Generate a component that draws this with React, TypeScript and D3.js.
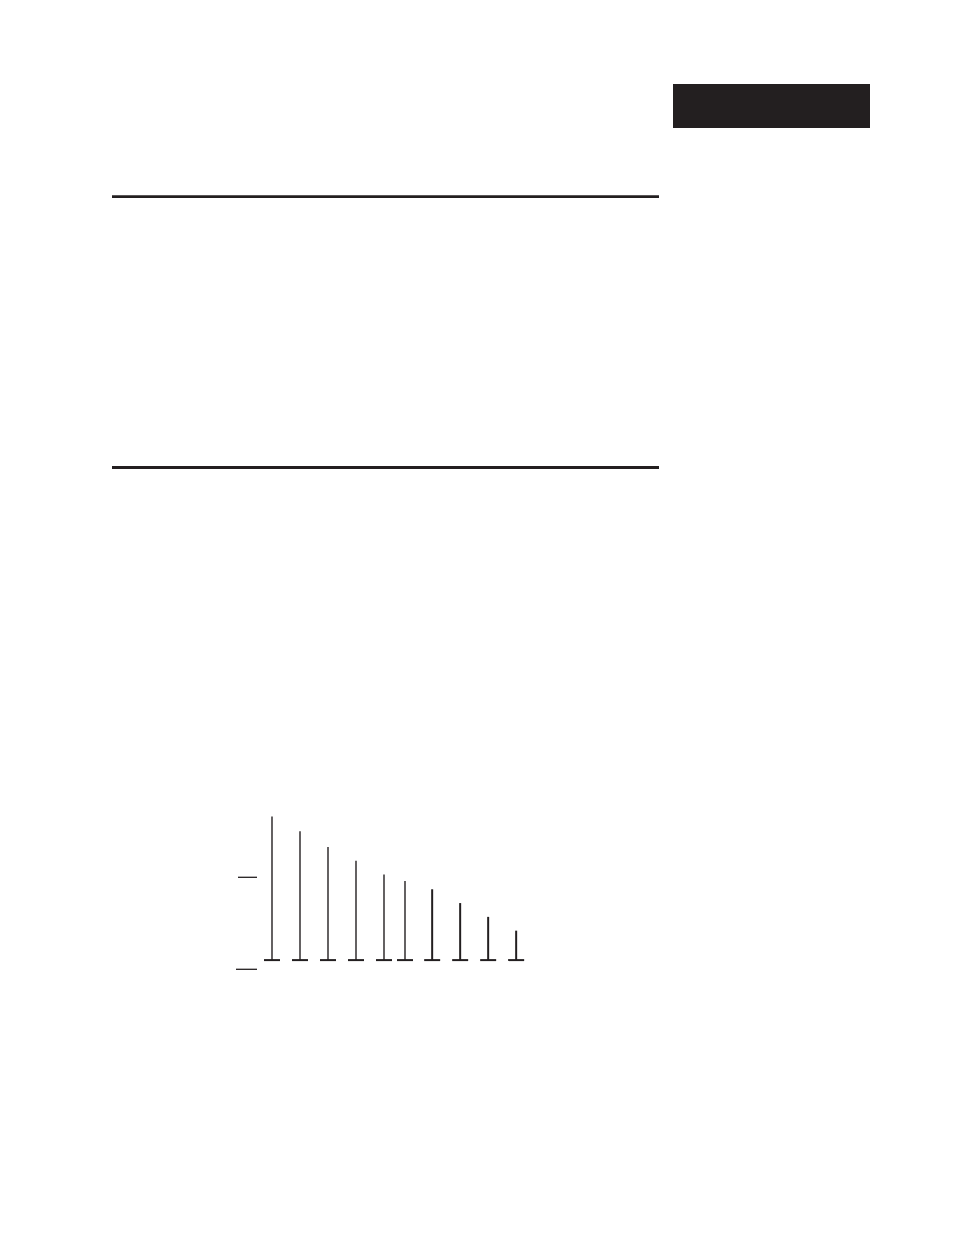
import * as d3 from "d3";

// chart values
const xValues = [1, 2, 3, 4, 5, 5.75, 6.72, 7.72, 8.72, 9.72];
const values = [1.66, 1.5, 1.33, 1.18, 1.03, 0.96, 0.87, 0.72, 0.57, 0.42];
const baseValue = 0.1;
const yTicks = [0, 1];

const INK = "#231f20";

const App = () => {
	const width = 954;
	const height = 1235;

	// x in data units, 28px per step
	const x = d3.scaleLinear().domain([1, 10]).range([272, 524]);
	const y = d3.scaleLinear().domain([0, 1]).range([969.3, 877.3]);

	const baseY = y(baseValue);
	const capHalf = 8;

	return (
		<svg
			width={width}
			height={height}
			style={{ position: "absolute", left: 0, top: 0, background: "#fff" }}
		>
			{/* header tab */}
			<rect x={673} y={84} width={197} height={44} fill={INK} />

			{/* section rules */}
			<line x1={112} x2={659} y1={196.7} y2={196.7} stroke={INK} strokeWidth={2.8} />
			<line x1={112} x2={659} y1={467.5} y2={467.5} stroke={INK} strokeWidth={2.8} />

			{/* y ticks, no labels */}
			{yTicks.map((t, i) => (
				<line
					key={"yt" + i}
					x1={i === 0 ? 236 : 238}
					x2={257}
					y1={y(t)}
					y2={y(t)}
					stroke={INK}
					strokeWidth={1.3}
				/>
			))}

			{/* stems */}
			{values.map((v, i) => (
				<g key={"s" + i}>
					<line
						x1={x(xValues[i])}
						x2={x(xValues[i])}
						y1={baseY}
						y2={y(v)}
						stroke={INK}
						strokeWidth={i < 6 ? 1.4 : 2}
					/>
					<line
						x1={x(xValues[i]) - capHalf}
						x2={x(xValues[i]) + capHalf}
						y1={baseY}
						y2={baseY}
						stroke={INK}
						strokeWidth={2}
					/>
				</g>
			))}
		</svg>
	);
};

export default App;
